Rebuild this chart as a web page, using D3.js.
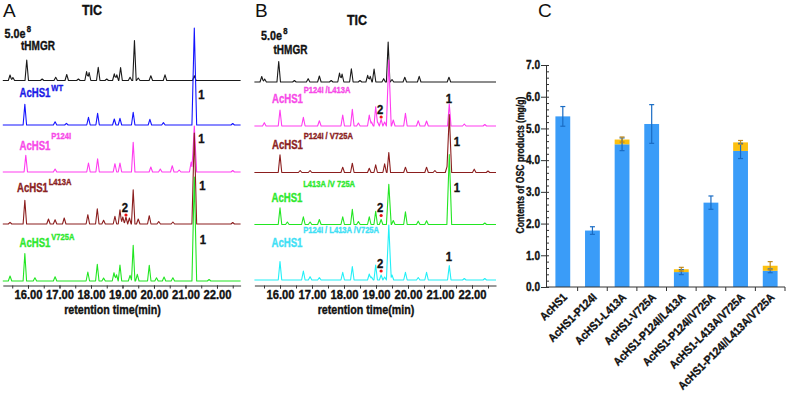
<!DOCTYPE html>
<html>
<head>
<meta charset="utf-8">
<script src="https://cdn.jsdelivr.net/npm/d3@7"></script>
<style>
body { margin: 0; background: #fff; }
text { font-family: "Liberation Sans", Arial, sans-serif; font-weight: bold; }
.letter { font-weight: normal; }
</style>
</head>
<body>
<svg id="fig" width="787" height="403"></svg>
<script>
// retention time ticks (min)
var timeTicks = [16, 17, 18, 19, 20, 21, 22];

// chromatogram peaks: [retention time (min), height]
var peaksTHMGR = [[15.43,5.5],[15.52,3],[15.96,20.5],[16.45,1.5],[16.88,3.3],[17.23,6],[17.6,1.5],[17.86,9],[17.94,8],[18.23,13.3],[18.5,1.5],[18.74,6.7],[18.82,5.7],[18.94,13],[19.24,3.3],[19.38,40],[19.5,2.5],[19.9,4.7],[20.35,5.7],[21.28,4.7]];
var peaksWT = [[15.9,20.7],[16.86,3.3],[17.22,1.7],[17.92,7.7],[18.21,11.7],[18.74,6],[18.92,6.7],[19.34,12.7],[19.87,5.7],[20.3,2.3],[21.28,97],[22.5,1.5]];
var peaksP124I = [[15.93,16.7],[16.86,3],[17.92,9],[18.21,13.3],[18.76,8.3],[18.92,9],[19.34,29.7],[19.9,5],[20.2,3],[20.58,6.3],[20.8,2],[21.18,10],[21.28,46],[22.5,1.5]];
var peaksL413A = [[15.43,1.7],[15.9,23.7],[16.65,5],[16.86,4.3],[17.15,6],[17.9,9.3],[18.2,15.3],[18.4,3.7],[18.76,7.7],[18.92,14.3],[19.01,7],[19.11,7],[19.22,6],[19.34,34.3],[19.5,5],[19.85,8.3],[20.15,2.5],[20.6,2],[21.28,91],[22.5,1.5]];
var peaksV725A = [[15.43,5],[15.9,27.4],[16.22,3.3],[16.86,4.3],[17.9,9],[18.2,16.7],[18.4,3],[18.73,8.3],[18.81,6.3],[18.92,16],[19.24,5.7],[19.34,35.7],[19.47,6.7],[19.85,15.7],[20.08,3.3],[20.32,4],[20.6,3.3],[21.28,104],[21.75,1.5]];
var peaksP124IL413A = [[15.51,3.3],[16.0,16],[16.73,8.7],[17.23,5.3],[17.96,11],[18.26,16.7],[18.45,3],[18.79,11],[18.86,4],[18.99,19.3],[19.05,4],[19.16,6.7],[19.27,4],[19.4,66],[19.54,6],[19.92,12.7],[20.32,5.3],[20.58,5],[21.29,22],[21.76,2],[22.4,1.5]];
var peaksP124IV725A = [[16.0,17.7],[16.63,2],[16.94,2],[17.96,5.3],[18.26,9.3],[18.79,4.3],[18.99,7.7],[19.27,8.7],[19.4,20],[19.92,5.3],[20.58,5.3],[20.84,2],[21.22,6],[21.29,58],[22.07,3.3],[22.5,1.5]];
var peaksL413AV725A = [[16.0,16.7],[16.23,2.5],[16.73,7.7],[16.94,2.5],[17.23,5],[17.96,7.7],[18.26,15.3],[18.45,3],[18.79,7.7],[18.99,13.3],[19.16,5],[19.4,40.3],[19.54,4],[19.92,12.7],[20.32,3.3],[20.58,3.7],[21.29,70],[22.4,1.5]];
var peaksTriple = [[16.0,18.4],[16.73,9],[16.94,3.3],[17.23,2.3],[17.96,7.7],[18.26,13.4],[18.79,6],[18.86,3],[18.99,15],[19.16,5],[19.27,3],[19.4,55],[19.5,5],[19.92,7.7],[20.32,2.5],[20.58,7.7],[21.29,14.4],[21.76,1.5],[22.4,1.5]];

// panel C: OSC product contents (mg/g)
var mutants = ["AcHS1", "AcHS1-P124I", "AcHS1-L413A", "AcHS1-V725A", "AcHS1-P124I/L413A", "AcHS1-P124I/V725A", "AcHS1-L413A/V725A", "AcHS1-P124I/L413A/V725A"];
var product1 = [5.38, 1.78, 4.5, 5.14, 0.47, 2.66, 4.29, 0.51];
var product1Err = [0.31, 0.12, 0.2, 0.61, 0.08, 0.21, 0.24, 0.06];
var product2 = [0, 0, 0.15, 0, 0.09, 0, 0.27, 0.16];
var product2Err = [0, 0, 0.08, 0, 0.06, 0, 0.06, 0.13];
var contentTicks = [0, 1, 2, 3, 4, 5, 6, 7];

var svg = d3.select("#fig");

// squeeze text horizontally, the figure uses a heavy condensed face
function squeeze(sel, f) {
  sel.each(function() {
    var w = this.getComputedTextLength();
    d3.select(this).attr("textLength", w * f).attr("lengthAdjust", "spacingAndGlyphs");
  });
}
function heavy(sel, color) {
  sel.style("stroke", color || "#111").style("stroke-width", 0.35);
}

// ---------- chromatogram panels ----------
var timeDomain = [15.2, 22.75];

var panels = [
  {
    left: 2.8, right: 240.6, axisY: 285.5,
    traces: [
      { peaks: peaksTHMGR, base: 80.5, color: "#1a1a1a" },
      { peaks: peaksWT, base: 125, color: "#1414ff" },
      { peaks: peaksP124I, base: 172, color: "#ff3cf0" },
      { peaks: peaksL413A, base: 224, color: "#8b1e1e" },
      { peaks: peaksV725A, base: 281, color: "#22e622" }
    ]
  },
  {
    left: 254.4, right: 496, axisY: 285.5,
    traces: [
      { peaks: peaksTHMGR, base: 82, color: "#1a1a1a" },
      { peaks: peaksP124IL413A, base: 126, color: "#ff3cf0" },
      { peaks: peaksP124IV725A, base: 172.5, color: "#8b1e1e" },
      { peaks: peaksL413AV725A, base: 224.5, color: "#22e622" },
      { peaks: peaksTriple, base: 280, color: "#22f0f8" }
    ]
  }
];

function tracePoints(peaks) {
  var ts = [timeDomain[0], timeDomain[1]];
  peaks.forEach(function(p) {
    var w = p[1] > 40 ? 0.075 : 0.055;
    ts.push(p[0] - w, p[0], p[0] + w);
  });
  ts.sort(function(a, b) { return a - b; });
  return ts.map(function(t) {
    var v = d3.max(peaks, function(p) {
      var w = p[1] > 40 ? 0.075 : 0.055;
      return Math.max(0, p[1] * (1 - Math.abs(t - p[0]) / w));
    });
    return [t, v];
  });
}

var intensity = d3.scaleLinear().domain([0, 100]).range([0, 100]);

panels.forEach(function(pn) {
  var x = d3.scaleLinear().domain(timeDomain).range([pn.left, pn.right]);
  pn.x = x;
  var g = svg.append("g");

  pn.traces.forEach(function(tr) {
    var line = d3.line()
      .x(function(d) { return x(d[0]); })
      .y(function(d) { return tr.base - intensity(d[1]); });
    g.append("path")
      .datum(tracePoints(tr.peaks))
      .attr("d", line)
      .attr("fill", "none")
      .attr("stroke", tr.color)
      .attr("stroke-width", 1.1)
      .attr("stroke-linejoin", "round");
  });

  // minor ticks
  var minor = d3.range(15.5, 22.76, 0.5);
  g.append("g")
    .attr("transform", "translate(0," + pn.axisY + ")")
    .call(d3.axisBottom(x).tickValues(minor).tickSize(3).tickFormat(""))
    .call(function(a) { a.select(".domain").remove(); })
    .selectAll("line").attr("stroke", "#333");

  var ax = g.append("g")
    .attr("transform", "translate(0," + pn.axisY + ")")
    .call(d3.axisBottom(x).tickValues(timeTicks).tickSize(3).tickSizeOuter(0).tickFormat(d3.format(".2f")));
  ax.select(".domain").attr("stroke", "#333");
  ax.selectAll("line").attr("stroke", "#333");
  ax.selectAll("text")
    .attr("y", 5)
    .attr("dy", "0.71em")
    .style("font-size", "12.5px")
    .style("font-family", "'Liberation Sans', Arial, sans-serif")
    .attr("fill", "#111")
    .call(heavy)
    .call(squeeze, 0.9);

  g.append("text")
    .attr("x", (x(16) + x(22)) / 2 - 10)
    .attr("y", 314)
    .attr("text-anchor", "middle")
    .style("font-size", "12px")
    .attr("fill", "#111")
    .text("retention time(min)")
    .call(heavy)
    .call(squeeze, 0.89);
});

// labels: main text with an optional raised part, kept in one text element
function label(x, y, txt, color, size, f, anchor, sup) {
  var t = svg.append("text")
    .attr("fill", color)
    .attr("text-anchor", anchor || "start")
    .call(heavy, color);
  var m = t.append("tspan").attr("x", x).attr("y", y)
    .style("font-size", size + "px").text(txt).call(squeeze, f);
  if (sup) {
    var end = x + +m.attr("textLength");
    t.append("tspan").attr("x", end + sup.dx).attr("y", sup.y)
      .style("font-size", sup.size + "px").text(sup.text).call(squeeze, sup.f);
  }
  return t;
}

svg.append("text").attr("class", "letter").attr("x", 3).attr("y", 17).style("font-size", "19px").attr("fill", "#111").text("A");
svg.append("text").attr("class", "letter").attr("x", 255).attr("y", 17).style("font-size", "19px").attr("fill", "#111").text("B");
svg.append("text").attr("class", "letter").attr("x", 538).attr("y", 17).style("font-size", "19px").attr("fill", "#111").text("C");

label(92, 15, "TIC", "#111", 14, 0.89, "middle");
label(357, 25, "TIC", "#111", 14, 0.89, "middle");
label(4.5, 37.5, "5.0e", "#111", 12.5, 0.86, "start", { text: "8", y: 31.5, size: 8.5, f: 0.9, dx: 1.2 });
label(261, 40, "5.0e", "#111", 12.5, 0.86, "start", { text: "8", y: 34, size: 8.5, f: 0.9, dx: 1.2 });
label(21, 50, "tHMGR", "#111", 12.5, 0.8);
label(273.5, 54, "tHMGR", "#111", 12.5, 0.8);

var traceLabels = [
  { x: 19.5, y: 97, sy: 91, sup: "WT", color: "#1a1ae6" },
  { x: 19.5, y: 150, sy: 139, sup: "P124I", color: "#f74ae8" },
  { x: 17, y: 192, sy: 185, sup: "L413A", color: "#8b2222" },
  { x: 19.5, y: 247, sy: 240, sup: "V725A", color: "#2ee82e" },
  { x: 272, y: 103, sy: 93, sup: "P124I /L413A", color: "#f74ae8" },
  { x: 272, y: 149, sy: 139, sup: "P124I / V725A", color: "#8b2222" },
  { x: 271.5, y: 202, sy: 187, sup: "L413A /V 725A", color: "#2ee82e" },
  { x: 271.5, y: 247, sy: 233, sup: "P124I / L413A /V725A", color: "#40e0f5" }
];
traceLabels.forEach(function(d) {
  label(d.x, d.y, "AcHS1", d.color, 12, 0.8, "start", { text: d.sup, y: d.sy, size: 9, f: 0.84, dx: 0.8 });
});

// peak numbers
var xA = panels[0].x, xB = panels[1].x;
var peakOne = [
  [xA(21.28) + 7, 99], [xA(21.28) + 7, 143], [xA(21.28) + 8, 190], [xA(21.28) + 8.5, 244],
  [xB(21.29) - 0.5, 102.5], [xB(21.29) + 7.5, 146], [xB(21.29) + 7.5, 192], [xB(21.29) - 0.5, 261]
];
peakOne.forEach(function(p) { label(p[0], p[1], "1", "#111", 12.5, 0.9, "middle"); });

var peakTwo = [[xA(19.11), 224], [xB(19.16), 126], [xB(19.16), 224.5], [xB(19.16), 280]];
peakTwo.forEach(function(p) {
  label(p[0] - 1, p[1] - 12.5, "2", "#111", 12.5, 0.9, "middle");
  svg.append("circle").attr("cx", p[0]).attr("cy", p[1] - 9).attr("r", 1.6).attr("fill", "#f01010");
});

// ---------- panel C ----------
var yC = d3.scaleLinear().domain([0, 7]).range([287, 65]);
var xC = d3.scaleBand().domain(mutants).range([548, 785]).paddingInner(0.5).paddingOuter(0.25);
var gC = svg.append("g");

var bars = gC.selectAll("g.bar").data(mutants).enter().append("g");
bars.append("rect")
  .attr("x", function(d) { return xC(d); })
  .attr("width", xC.bandwidth())
  .attr("y", function(d, i) { return yC(product1[i]); })
  .attr("height", function(d, i) { return yC(0) - yC(product1[i]); })
  .attr("fill", "#3a9cf8");
bars.append("rect")
  .attr("x", function(d) { return xC(d); })
  .attr("width", xC.bandwidth())
  .attr("y", function(d, i) { return yC(product1[i] + product2[i]); })
  .attr("height", function(d, i) { return yC(product1[i]) - yC(product1[i] + product2[i]); })
  .attr("fill", "#fcc010");

function errBar(sel, val, err, color) {
  sel.each(function(d, i) {
    if (!err[i]) return;
    var cx = xC(d) + xC.bandwidth() / 2, v = val(i), e = err[i];
    var eg = d3.select(this).append("g").attr("stroke", color).attr("stroke-width", 1.2);
    eg.append("line").attr("x1", cx).attr("x2", cx).attr("y1", yC(v - e)).attr("y2", yC(v + e));
    eg.append("line").attr("x1", cx - 2.5).attr("x2", cx + 2.5).attr("y1", yC(v - e)).attr("y2", yC(v - e));
    eg.append("line").attr("x1", cx - 2.5).attr("x2", cx + 2.5).attr("y1", yC(v + e)).attr("y2", yC(v + e));
  });
}
errBar(bars, function(i) { return product1[i]; }, product1Err, "#1a6cc4");
errBar(bars, function(i) { return product1[i] + product2[i]; }, product2Err, "#c08a1c");

// y axis
var yMinor = d3.range(0, 7.01, 0.2).map(function(v) { return +v.toFixed(1); });
gC.append("g")
  .attr("transform", "translate(546,0)")
  .call(d3.axisRight(yC).tickValues(yMinor).tickSize(3).tickFormat(""))
  .call(function(a) { a.select(".domain").remove(); })
  .selectAll("line").attr("stroke", "#333");
var yAx = gC.append("g")
  .attr("transform", "translate(546,0)")
  .call(d3.axisLeft(yC).tickValues(contentTicks).tickSize(5).tickSizeOuter(0).tickFormat(d3.format(".1f")));
yAx.select(".domain").attr("stroke", "#333");
yAx.selectAll("line").attr("stroke", "#333");
yAx.selectAll("text")
  .style("font-size", "12px")
  .style("font-family", "'Liberation Sans', Arial, sans-serif")
  .attr("fill", "#111").attr("x", -6)
  .call(heavy)
  .call(squeeze, 0.84);

// x axis
var step = xC.step();
gC.append("line").attr("x1", 546).attr("x2", 785).attr("y1", 287).attr("y2", 287).attr("stroke", "#333");
gC.selectAll("line.xt").data(d3.range(1, mutants.length + 1)).enter().append("line")
  .attr("x1", function(k) { return 548 + k * step; })
  .attr("x2", function(k) { return 548 + k * step; })
  .attr("y1", 287).attr("y2", 291).attr("stroke", "#333");

gC.selectAll("text.cat").data(mutants).enter().append("text")
  .attr("transform", function(d) {
    return "translate(" + (xC(d) + xC.bandwidth() / 2 + 5) + ",298) rotate(-45)";
  })
  .attr("text-anchor", "end")
  .style("font-size", "11.5px")
  .attr("fill", "#111")
  .text(function(d) { return d; })
  .call(heavy)
  .call(squeeze, 0.89);

svg.append("text")
  .attr("transform", "translate(523.5,165) rotate(-90)")
  .attr("text-anchor", "middle")
  .style("font-size", "10.5px")
  .attr("fill", "#111")
  .text("Contents of OSC products (mg/g)")
  .call(heavy)
  .call(squeeze, 0.82);
</script>
</body>
</html>
